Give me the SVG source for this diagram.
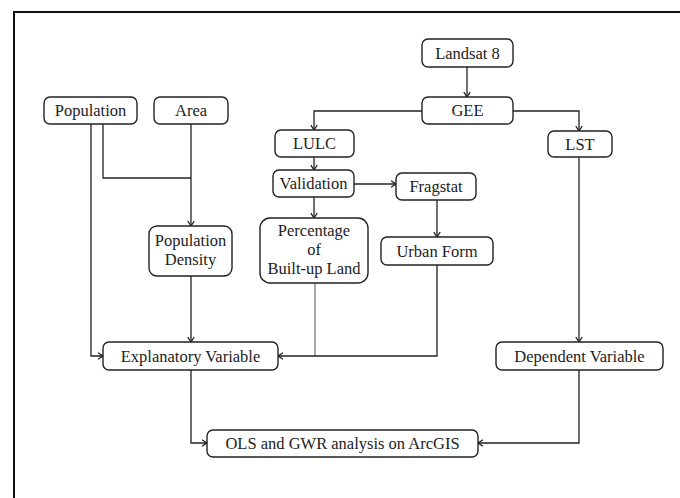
<svg xmlns="http://www.w3.org/2000/svg" width="680" height="498" viewBox="0 0 680 498">
<defs>
<marker id="arr" markerWidth="8" markerHeight="8" refX="6" refY="4" orient="auto" markerUnits="userSpaceOnUse">
<path d="M1,0.8 L6,4 L1,7.2" fill="none" stroke="#222" stroke-width="1.3"/>
</marker>
</defs>
<style>
.box{fill:#fff;stroke:#222;stroke-width:1.4}
.t{font-family:"Liberation Serif","DejaVu Serif",serif;font-size:16.5px;fill:#222;text-anchor:middle}
.c{fill:none;stroke:#222;stroke-width:1.3}
.thin{fill:none;stroke:#555;stroke-width:1}
</style>
<rect width="680" height="498" fill="#fff"/>
<path d="M14,498 V12 H680" fill="none" stroke="#111" stroke-width="2"/>
<g id="connectors">
<path class="c" d="M467,67 V97" marker-end="url(#arr)"/>
<path class="c" d="M422,111 H314 V130" marker-end="url(#arr)"/>
<path class="c" d="M513,111 H579 V131" marker-end="url(#arr)"/>
<path class="c" d="M314,157 V170" marker-end="url(#arr)"/>
<path class="c" d="M354,184 H396" marker-end="url(#arr)"/>
<path class="c" d="M314,197 V218" marker-end="url(#arr)"/>
<path class="c" d="M437,200 V237" marker-end="url(#arr)"/>
<path class="c" d="M91,124 V356 H103" marker-end="url(#arr)"/>
<path class="c" d="M103,124 V178 H191"/>
<path class="c" d="M191,124 V226" marker-end="url(#arr)"/>
<path class="c" d="M191,276 V342" marker-end="url(#arr)"/>
<path class="thin" d="M315,283 V356"/>
<path class="c" d="M437,265 V356 H278" marker-end="url(#arr)"/>
<path class="c" d="M579,157 V342" marker-end="url(#arr)"/>
<path class="c" d="M191,370 V443 H207" marker-end="url(#arr)"/>
<path class="c" d="M579,370 V443 H478" marker-end="url(#arr)"/>
</g>
<g id="landsat"><rect class="box" x="422" y="39" width="91" height="28" rx="6"/><text class="t" x="467.5" y="58.5">Landsat 8</text></g>
<g id="gee"><rect class="box" x="422" y="97" width="91" height="27" rx="6"/><text class="t" x="467.5" y="116">GEE</text></g>
<g id="population"><rect class="box" x="44" y="97" width="93" height="27" rx="6"/><text class="t" x="90.5" y="116">Population</text></g>
<g id="area"><rect class="box" x="154" y="97" width="74" height="27" rx="6"/><text class="t" x="191" y="116">Area</text></g>
<g id="lulc"><rect class="box" x="275" y="130" width="79" height="27" rx="6"/><text class="t" x="314.5" y="149">LULC</text></g>
<g id="lst"><rect class="box" x="548" y="131" width="64" height="26" rx="6"/><text class="t" x="580" y="149.5">LST</text></g>
<g id="validation"><rect class="box" x="273" y="170" width="81" height="27" rx="6"/><text class="t" x="313.5" y="189">Validation</text></g>
<g id="fragstat"><rect class="box" x="396" y="173" width="80" height="27" rx="6"/><text class="t" x="436" y="192">Fragstat</text></g>
<g id="popdensity"><rect class="box" x="149" y="226" width="83" height="50" rx="8"/><text class="t" x="190.5" y="245.5">Population</text><text class="t" x="190.5" y="264.5">Density</text></g>
<g id="percentage"><rect class="box" x="260" y="218" width="108" height="65" rx="10"/><text class="t" x="314" y="235.5">Percentage</text><text class="t" x="314" y="254.5">of</text><text class="t" x="314" y="273.5">Built-up Land</text></g>
<g id="urbanform"><rect class="box" x="381" y="237" width="112" height="28" rx="6"/><text class="t" x="437" y="256.5">Urban Form</text></g>
<g id="explanatory"><rect class="box" x="103" y="342" width="175" height="28" rx="6"/><text class="t" x="190.5" y="361.5">Explanatory Variable</text></g>
<g id="dependent"><rect class="box" x="496" y="342" width="167" height="28" rx="6"/><text class="t" x="579.5" y="361.5">Dependent Variable</text></g>
<g id="ols"><rect class="box" x="207" y="430" width="271" height="27" rx="6"/><text class="t" x="342.5" y="449">OLS and GWR analysis on ArcGIS</text></g>
</svg>
